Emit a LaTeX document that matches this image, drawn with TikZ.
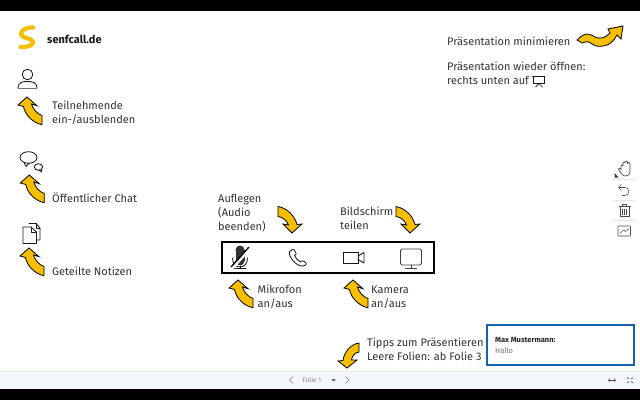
\documentclass[tikz,border=0pt]{standalone}
\usepackage{fontspec}
\setmainfont{Fira Sans}
\usetikzlibrary{arrows.meta}
\definecolor{senf}{HTML}{F7BE00}
\definecolor{txt}{HTML}{333333}
\definecolor{barbg}{HTML}{F3F6FA}
\definecolor{blueb}{HTML}{1A5FB4}
\tikzset{
  x=1pt,y=-1pt,
  lbl/.style={anchor=west,font=\fontsize{11}{13.8}\selectfont,text=txt,inner sep=0pt,align=left},
  arw/.style={draw=black,fill=senf,line width=.8pt,line join=miter},
  ico/.style={draw=black!90,line width=.85pt,fill=none,line join=round,line cap=round},
  tool/.style={draw=black!70,line width=.55pt,fill=none,line join=round},
  pics/uparr/.style={code={
    \path[arw] (0,0) -- (10,8.7) -- (4.5,7) .. controls (6,12) and (10,17) .. (15,18.5) -- (15,27.7)
      .. controls (6,26) and (-2,18) .. (-3.5,9.5) -- (-9,8) -- cycle;}},
  pics/dnarr/.style={code={
    \path[arw] (0,0) -- (10,-9) -- (5,-8.5) .. controls (3,-17) and (-5,-25) .. (-14,-26.5) -- (-14,-16.5)
      .. controls (-9,-16) and (-5,-12) .. (-3.5,-8) -- (-9,-9) -- cycle;}},
}
\begin{document}
\begin{tikzpicture}
\useasboundingbox (0,0) rectangle (640,400);
\fill[white] (0,0) rectangle (640,400);
\fill[black] (0,0) rectangle (640,11);
\fill[black] (0,389) rectangle (640,400);
\fill[barbg] (0,371) rectangle (640,389);
\draw[black!8,line width=.5pt] (0,371) -- (640,371);
% logo
\draw[senf,line width=4.2pt,line cap=round] (33,27.5) .. controls (27,27) and (21,30) .. (21,34) .. controls (21,38.5) and (33,38) .. (33,42) .. controls (33,46) and (26,47.5) .. (20.5,47);
\node[anchor=west,inner sep=0pt,font=\fontsize{11}{12}\selectfont\bfseries,text=black!90] (logo) at (47,39.5) {senfcall.de};
% person
\draw[ico] (27.5,74.5) circle (5.3);
\draw[ico] (18,88) .. controls (18,82) and (23,81.5) .. (27.5,81.5) .. controls (32,81.5) and (37,82) .. (37,88);
\draw[black!55,line width=1pt] (18,88.5) -- (37,88.5);
\pic at (27,97) {uparr};
\node[lbl] (t1) at (52,112.5) {Teilnehmende\\ein-/ausblenden};
% chat
\draw[ico] (28.5,157.5) ellipse (8.5 and 5.8);
\draw[ico] (24,162.5) -- (26,166.5) -- (29,163.2);
\draw[ico] (38.5,167) ellipse (4.2 and 3.3);
\draw[ico] (39,170) -- (41.5,172) -- (41.5,169.5);
\pic at (29.3,175) {uparr};
\node[lbl] (t2) at (52,198) {Öffentlicher Chat};
% notes
\draw[ico] (29,223.5) -- (36,223.5) -- (40,228) -- (40,240) -- (36.5,240);
\draw[ico] (36,223.5) -- (36,228) -- (40,228);
\draw[ico,fill=white] (23,227) -- (31,227) -- (36.5,232) -- (36.5,243.5) -- (23,243.5) -- cycle;
\draw[ico] (31,227) -- (31,232) -- (36.5,232);
\pic at (29,248) {uparr};
\node[lbl] (t3) at (52,271) {Geteilte Notizen};
% center labels
\node[lbl] (t4) at (218,213) {Auflegen\\(Audio\\beenden)};
\pic at (292,233) {dnarr};
\node[lbl] (t5) at (340,218.5) {Bildschirm\\teilen};
\pic at (410,233) {dnarr};
% toolbar
\node[draw=black,line width=2pt,minimum width=212pt,minimum height=31pt,inner sep=0pt] (bar) at (328,257.5) {};
% mic
\fill[black!80] (235.5,250) rectangle (244.5,261);
\fill[black!80] (240,250) circle (4.5);
\fill[black!80] (240,261) circle (4.5);
\draw[ico] (232.5,258) .. controls (232.5,270) and (247.5,270) .. (247.5,258);
\draw[ico] (240,266) -- (240,268.5) (234,268.5) -- (246,268.5);
\draw[white,line width=2.4pt] (232.5,268.5) -- (250,248.5);
\draw[black,line width=1.3pt] (231,267) -- (249,247);
% phone
\draw[ico] (289.5,251.5) -- (292.5,249.5) .. controls (293.5,249) and (294,249.5) .. (294.5,250.5) -- (296,253) .. controls (296.5,254) and (296,254.5) .. (295,255) -- (294.5,255.5)
  .. controls (295.5,258) and (298,261) .. (300.5,262) -- (301.5,261) .. controls (302,260.5) and (302.8,260.5) .. (303.5,261) -- (305.5,262.5) .. controls (306.5,263.5) and (306.5,264.5) .. (305.5,265) -- (303,266) .. controls (297,267) and (288,257) .. (289.5,251.5) -- cycle;
% camera
\draw[ico,line width=.9pt] (343.5,252) rectangle (358,263.5);
\draw[ico,line width=.9pt] (358,256) -- (364,252.5) -- (364,263) -- (358,259.5);
% monitor
\draw[ico,line width=.9pt,draw=black!75,rounded corners=1.5pt] (400.5,249) rectangle (421.5,265);
\draw[ico,draw=black!75,line width=.9pt] (411,265) -- (411,268.5) (405.5,268.5) -- (416.5,268.5);
% lower labels
\pic at (238,280) {uparr};
\node[lbl] (t6) at (257.5,296.5) {Mikrofon\\an/aus};
\pic at (353,280) {uparr};
\node[lbl] (t7) at (371,297) {Kamera\\an/aus};
% top right
\node[lbl] (t8) at (447,41) {Präsentation minimieren};
\path[arw] (623,26) -- (621,39) -- (617,35) .. controls (615,38) and (613.5,41) .. (612,41.7) .. controls (609,44.5) and (606,46) .. (603,46) .. controls (600,46.5) and (597,46.5) .. (595,45.7) .. controls (592,44.5) and (590,42) .. (588,41.7) .. controls (586,41.5) and (584,42.5) .. (582,43) -- (577,40) .. controls (580,37) and (583,34.5) .. (587,34) .. controls (591,34) and (594,37) .. (597,37.7) .. controls (599,38.2) and (601,38.2) .. (603,37.7) .. controls (605.5,37) and (608,35) .. (610,33) -- (608,29) -- cycle;
\node[lbl] (t9) at (447,73.5) {Präsentation wieder öffnen:\\rechts unten auf};
\draw[ico,line width=.7pt] (533.5,76.5) rectangle (544,83) (532.5,76.5) -- (545,76.5);
\draw[ico,line width=.7pt] (535.5,87) -- (539,83.5) -- (542.5,87);
% tipps
\path[arw] (347,368) -- (357,360) -- (351.5,360) .. controls (352,356) and (355,352.5) .. (359,352) -- (359,343) .. controls (351,344) and (344,352) .. (343,360.5) -- (338,361) -- cycle;
\node[lbl] (t10) at (367,349.5) {Tipps zum Präsentieren\\Leere Folien: ab Folie 3};
% toolbar right
\fill[white] (613,158) rectangle (635,242);
\draw[black!10,line width=.5pt] (613,179) -- (635,179) (613,200) -- (635,200) (613,220.5) -- (635,220.5);
\fill[black!80] (614.5,173) -- (618.5,177.5) -- (614.5,177.5) -- cycle;
\draw[tool,line width=.7pt] (621,170) -- (621,166) .. controls (621,164.5) and (623,164.5) .. (623,166) -- (623,163) .. controls (623,161.5) and (625,161.5) .. (625,163) -- (625,162) .. controls (625,160.5) and (627.5,160.5) .. (627.5,162) -- (627.5,163.5) .. controls (627.5,162) and (630,162) .. (630,163.5) -- (630,171) .. controls (630,175) and (627.5,176) .. (625.5,176) .. controls (622.5,176) and (621,173) .. (618.5,169.5) .. controls (618,168) and (620,167.5) .. (621,169);
\draw[tool] (619,187.5) -- (625,187.5) .. controls (630,187.5) and (630,195.5) .. (625,195.5) -- (622,195.5);
\draw[tool] (621.5,184.5) -- (618.5,187.5) -- (621.5,190.5);
\draw[tool] (620,206.5) rectangle (629,216.5) (618.5,206.5) -- (630.5,206.5) (622.5,206.5) -- (622.5,204.5) -- (626.5,204.5) -- (626.5,206.5) (622.5,209) -- (622.5,214.5) (624.5,209) -- (624.5,214.5) (626.5,209) -- (626.5,214.5);
\draw[tool,rounded corners=.6pt] (618,226) rectangle (630.5,236);
\draw[tool] (620,233.5) -- (623.5,230) -- (625.5,231.5) -- (629,228.5);
% Chat box
\node[draw=blueb,fill=white,line width=2pt,minimum width=147pt,minimum height=40pt,inner sep=0pt] (box) at (560.5,345) {};
\node[anchor=west,inner sep=0pt,font=\fontsize{7.5}{9}\selectfont\bfseries,text=black!85] (mm) at (495,339.5) {Max Mustermann:};
\node[anchor=west,inner sep=0pt,font=\fontsize{7.5}{9}\selectfont,text=black!55] (hallo) at (495,350.5) {Hallo};
% bottom bar
\draw[black!50,line width=.6pt] (293,376.5) -- (289.5,380) -- (293,383.5);
\node[inner sep=0pt,font=\fontsize{6.5}{8}\selectfont,text=black!50] (folie) at (312,380) {Folie 1};
\draw[black!85,line width=.7pt] (332,379) -- (333.5,380.8) -- (335,379);
\draw[black!50,line width=.6pt] (345.5,376.5) -- (349,380) -- (345.5,383.5);
\draw[black!70,line width=.6pt,{Straight Barb[length=1.5pt]}-{Straight Barb[length=1.5pt]}] (608,380) -- (616,380);
\draw[black!75,line width=.6pt] (627,377.5) -- (629,379) (633,377.5) -- (631,379) (627,383) -- (629,381.5) (633,383) -- (631,381.5);
\end{tikzpicture}
\end{document}
